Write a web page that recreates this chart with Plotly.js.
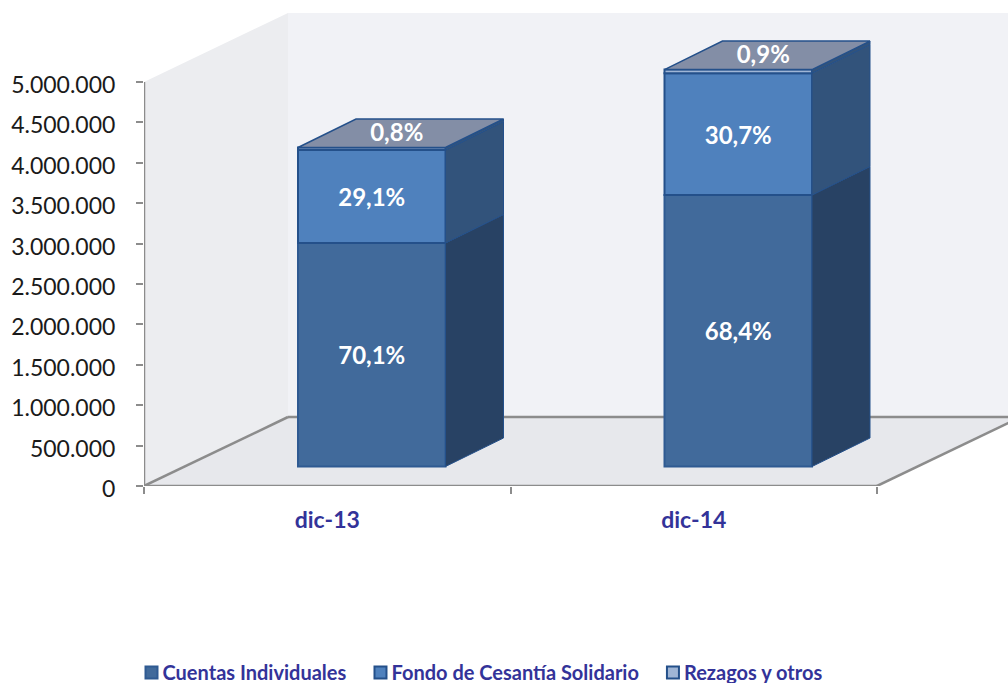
<!DOCTYPE html>
<html>
<head>
<meta charset="utf-8">
<script src="https://cdn.plot.ly/plotly-3.0.1.min.js"></script>
<style>html,body{margin:0;padding:0;background:#fff;overflow:hidden}#c{width:1008px;height:683px}</style>
</head>
<body>
<div id="c"></div>
<script>
// Data
const categories = ['dic-13', 'dic-14'];
const seriesNames = ['Cuentas Individuales', 'Fondo de Cesantía Solidario', 'Rezagos y otros'];
const cuentas = [2766000, 3360000];
const fondo = [1150000, 1508000];
const rezagos = [32000, 44000];
const pctCuentas = ['70,1%', '68,4%'];
const pctFondo = ['29,1%', '30,7%'];
const pctRezagos = ['0,8%', '0,9%'];
const yTickVals = [0, 500000, 1000000, 1500000, 2000000, 2500000, 3000000, 3500000, 4000000, 4500000, 5000000];
const yTickText = ['0', '500.000', '1.000.000', '1.500.000', '2.000.000', '2.500.000', '3.000.000', '3.500.000', '4.000.000', '4.500.000', '5.000.000'];

// Styles
const frontColors = ['#416A9B', '#4F81BD', '#9FB5D5'];
const sideColors = ['#284264', '#32537B', '#32537B'];
const topColor = '#838EA6';
const edge = '#24508A';
const axisGrey = '#8C8C8C';
const labelBlue = '#333399';

// Pseudo-3D projection, expressed in axis units
const pxX = 366.5, pxY = 80.8 / 1e6;
const wallDX = 144 / pxX, wallDY = 69 / pxY;
const barOffX = 44.5 / pxX, barOffY = 19.5 / pxY;
const barW = 147.5 / pxX;
const barDX = 58 / pxX, barDY = 28.5 / pxY;
const labelNudge = 3.5 / pxY;
const xMin = -0.5, xMax = -0.5 + 864 / pxX, xEnd = 1.5;
const yTop = 5000000, yMax = 473 / pxY;

const xs = categories.map((_, i) => i);
const series = [cuentas, fondo, rezagos];
const traces = [];

// Front faces as real bars (also provide the legend)
const bases = xs.map(() => barOffY);
series.forEach((vals, s) => {
  traces.push({
    type: 'bar', name: seriesNames[s],
    x: xs.map(i => i + barOffX), y: vals, base: bases.slice(), width: barW,
    marker: {color: frontColors[s], line: {color: s === 0 ? '#2F5A92' : edge, width: 2}},
    hoverinfo: 'skip'
  });
  vals.forEach((v, i) => { bases[i] += v; });
});

// Side and top faces from the same values
function poly(x, y, fill, lineColor, w) {
  traces.push({type: 'scatter', mode: 'lines', x, y, fill: 'toself', fillcolor: fill,
    line: {color: lineColor, width: w}, showlegend: false, hoverinfo: 'skip'});
}
xs.forEach(i => {
  let b = barOffY;
  const r = i + barOffX + barW / 2;
  const l = i + barOffX - barW / 2;
  series.forEach((vals, s) => {
    const t = b + vals[i];
    poly([r, r + barDX, r + barDX, r, r], [b, b + barDY, t + barDY, t, b], sideColors[s], edge, 1);
    b = t;
  });
  poly([l, l + barDX, r + barDX, r, l], [b, b + barDY, b + barDY, b, b], topColor, edge, 1.5);
});

// Axis lines
traces.push({type: 'scatter', mode: 'lines', x: [xMin, xMin], y: [0, yTop], cliponaxis: false,
  line: {color: axisGrey, width: 2.5}, showlegend: false, hoverinfo: 'skip'});
traces.push({type: 'scatter', mode: 'lines', x: [xMin, xEnd], y: [0, 0], cliponaxis: false,
  line: {color: axisGrey, width: 2.5}, showlegend: false, hoverinfo: 'skip'});

// Percent labels
const textX = [], textY = [], textS = [];
xs.forEach(i => {
  const cx = i + barOffX;
  const a = barOffY + cuentas[i], c = a + fondo[i], d = c + rezagos[i];
  textX.push(cx, cx, cx + barDX / 2 - 4 / pxX);
  textY.push(barOffY + cuentas[i] / 2 - labelNudge, a + fondo[i] / 2 - labelNudge, d + barDY / 2 + 2 / pxY - labelNudge);
  textS.push(pctCuentas[i], pctFondo[i], pctRezagos[i]);
});
traces.push({type: 'scatter', mode: 'text', x: textX, y: textY, text: textS, textposition: 'middle center',
  textfont: {family: 'Lato, sans-serif', size: 24, color: '#FFFFFF', weight: 700},
  showlegend: false, hoverinfo: 'skip'});

const rect = (path, fill) => ({type: 'path', xref: 'x', yref: 'y', layer: 'below', path, fillcolor: fill, line: {width: 0}});
const seg = (x0, y0, x1, y1) => ({type: 'line', xref: 'x', yref: 'y', layer: 'below', x0, y0, x1, y1, line: {color: axisGrey, width: 2.5}});
const P = pts => 'M' + pts.map(p => p.join(',')).join('L') + 'Z';

const shapes = [
  rect(P([[xMin + wallDX, wallDY], [xMax, wallDY], [xMax, yMax], [xMin + wallDX, yMax]]), '#F1F2F6'),
  rect(P([[xMin, 0], [xMin + wallDX, wallDY], [xMin + wallDX, yTop + wallDY], [xMin, yTop]]), '#ECEDF0'),
  rect(P([[xMin, 0], [xEnd, 0], [xEnd + wallDX, wallDY], [xMin + wallDX, wallDY]]), '#E7E8EC'),
  seg(xMin + wallDX, wallDY, xMax, wallDY),
  seg(xMin, 0, xMin + wallDX, wallDY),
  seg(xEnd, 0, xEnd + wallDX, wallDY)
];

const layout = {
  width: 1008, height: 683,
  margin: {l: 0, r: 0, t: 0, b: 0},
  paper_bgcolor: '#FFFFFF', plot_bgcolor: 'rgba(0,0,0,0)',
  barmode: 'overlay',
  shapes,
  showlegend: true,
  legend: {orientation: 'h', xanchor: 'left', x: 122.5 / 1008, yanchor: 'bottom', y: 0,
    font: {family: 'Lato, sans-serif', size: 20, color: labelBlue, weight: 700}, traceorder: 'normal',
    bgcolor: 'rgba(0,0,0,0)'},
  xaxis: {
    domain: [144 / 1008, 1], range: [xMin, xMax], showgrid: false, zeroline: false, showline: false,
    tickmode: 'array', tickvals: xs, ticktext: categories, ticks: '', ticklen: 0,
    ticklabelstandoff: 18,
    tickfont: {family: 'Lato, sans-serif', size: 23, color: labelBlue, weight: 700},
    minor: {tickmode: 'array', tickvals: [-0.5, 0.5, 1.5], ticks: 'outside', ticklen: 7, tickwidth: 2, tickcolor: axisGrey, showgrid: false}
  },
  yaxis: {
    domain: [(683 - 486) / 683, (683 - 13) / 683], range: [0, yMax], showgrid: false, zeroline: false, showline: false,
    tickmode: 'array', tickvals: yTickVals, ticktext: yTickText,
    ticks: 'outside', ticklen: 7, tickwidth: 2, tickcolor: axisGrey, ticklabelstandoff: 16, ticklabelshift: 3,
    tickfont: {family: 'Lato, sans-serif', size: 23, color: '#1A1A1A'}
  }
};

Plotly.newPlot('c', traces, layout, {displayModeBar: false, staticPlot: true}).then(() => {
  document.querySelectorAll('.legend .legendsymbols').forEach(n => n.setAttribute('transform', 'translate(9,0)'));
  const lg = document.querySelector('.legend');
  const m = /translate\(([-\d.]+),\s*([-\d.]+)\)/.exec(lg.getAttribute('transform'));
  if (m) lg.setAttribute('transform', 'translate(' + m[1] + ',' + (parseFloat(m[2]) + 9) + ')');
});
</script>
</body>
</html>
